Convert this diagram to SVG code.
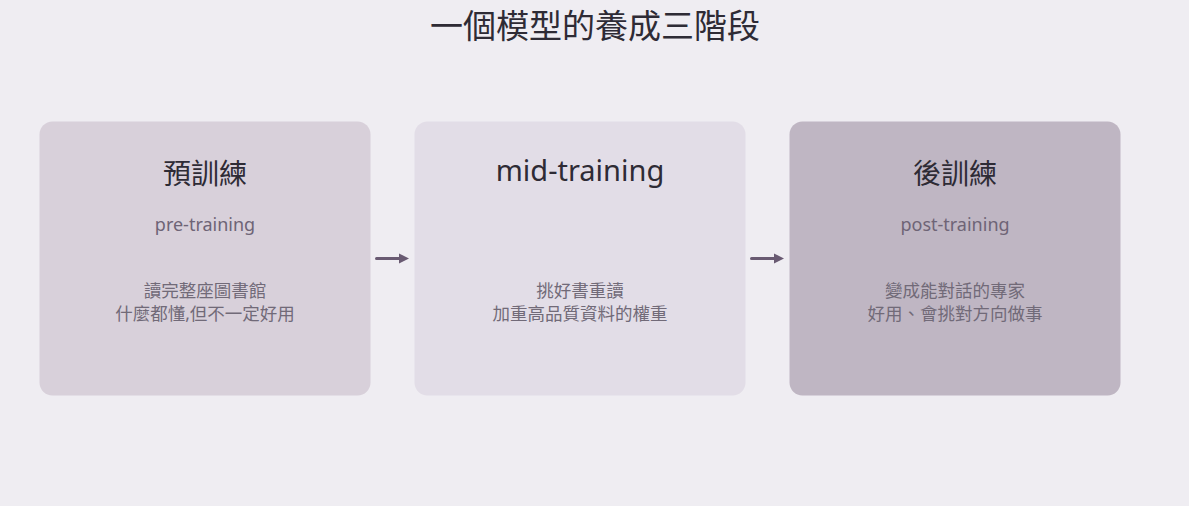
<svg xmlns="http://www.w3.org/2000/svg" width="1189" height="506" viewBox="0 0 1189 506">
<defs>
<style>
.bg{fill:#efedf2}
.node{stroke:none}
.t{font-family:"Noto Sans","Noto Sans CJK TC",sans-serif;text-anchor:middle}
.title{font-size:33px;fill:#2e2b35}
.head{font-size:28px;fill:#2e2b35}
.sub{font-size:18px;fill:#6e6476}
.desc{font-size:17.5px;fill:#716a78}
.conn{stroke:#695a72;stroke-width:3;fill:none;stroke-linecap:round}
</style>
<marker id="ah" viewBox="0 0 10 10" refX="2" refY="5" markerWidth="3.4" markerHeight="3.4" orient="auto" markerUnits="strokeWidth">
<path d="M0,0 L10,5 L0,10 z" fill="#695a72"/>
</marker>
</defs>
<rect class="bg" x="0" y="0" width="1189" height="506"/>
<text class="t title" x="595" y="38">一個模型的養成三階段</text>
<g id="node-pre">
<rect class="node" x="39.5" y="121.5" width="331" height="274" rx="13" fill="#d8d0da"/>
<text class="t head" x="205" y="184">預訓練</text>
<text class="t sub" x="205" y="231">pre-training</text>
<text class="t desc" x="205" y="297">讀完整座圖書館</text>
<text class="t desc" x="205" y="320">什麼都懂,但不一定好用</text>
</g>
<g id="node-mid">
<rect class="node" x="414.5" y="121.5" width="331" height="274" rx="13" fill="#e2dde7"/>
<text class="t head" x="580" y="181" style="font-size:29px">mid-training</text>
<text class="t desc" x="580" y="297">挑好書重讀</text>
<text class="t desc" x="580" y="320">加重高品質資料的權重</text>
</g>
<g id="node-post">
<rect class="node" x="789.5" y="121.5" width="331" height="274" rx="13" fill="#bfb6c3"/>
<text class="t head" x="955" y="184">後訓練</text>
<text class="t sub" x="955" y="231">post-training</text>
<text class="t desc" x="955" y="297">變成能對話的專家</text>
<text class="t desc" x="955" y="320">好用、會挑對方向做事</text>
</g>
<g id="connectors">
<line class="conn" x1="376.5" y1="258.5" x2="401" y2="258.5" marker-end="url(#ah)"/>
<line class="conn" x1="751.5" y1="258.5" x2="776" y2="258.5" marker-end="url(#ah)"/>
</g>
</svg>
